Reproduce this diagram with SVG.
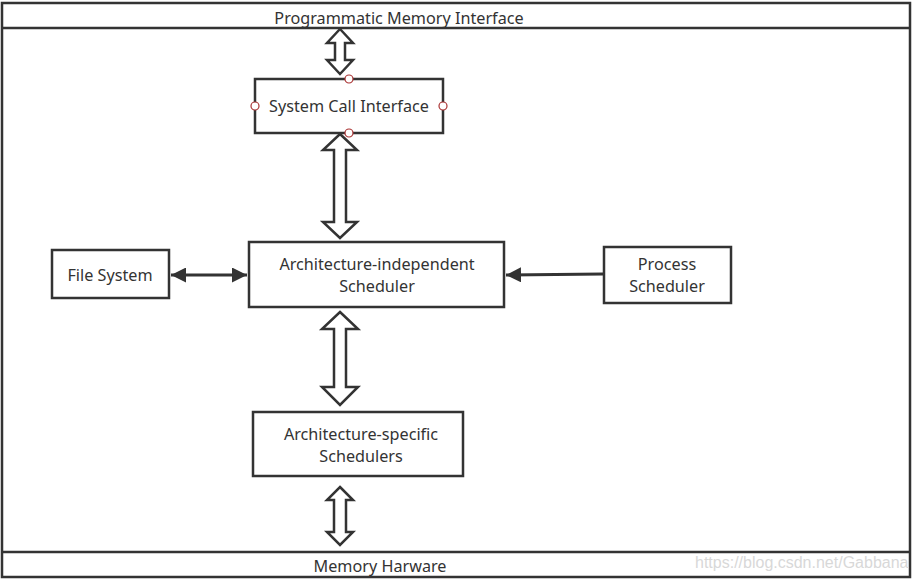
<svg xmlns="http://www.w3.org/2000/svg" width="915" height="579" viewBox="0 0 915 579">
<style>
.box{fill:#fff;stroke:#333;stroke-width:2.5}
.frame{fill:none;stroke:#333;stroke-width:2.5}
.t{font-family:"Noto Sans","Open Sans",sans-serif;font-size:16.2px;fill:#333;text-anchor:middle}
.hollow{fill:#fff;stroke:#333;stroke-width:2.5;stroke-linejoin:miter}
.line{stroke:#333;stroke-width:3;fill:none}
.port{fill:#fff;stroke:#a33;stroke-width:1.2}
.wm{font-family:"Liberation Sans",Arial,sans-serif;font-size:16px;fill:#d8d8d8}
</style>
<defs>
<marker id="ah" viewBox="0 0 10 10" refX="10" refY="5" markerWidth="5" markerHeight="5" orient="auto-start-reverse" markerUnits="strokeWidth">
<path d="M0,0 L10,5 L0,10 z" fill="#333"/>
</marker>
</defs>
<rect width="915" height="579" fill="#fff"/>
<g id="frame">
<rect class="frame" x="2" y="3" width="908" height="574"/>
<line class="frame" x1="2" y1="28" x2="910" y2="28"/>
<line class="frame" x1="2" y1="552" x2="910" y2="552"/>
<text class="t" x="399" y="24">Programmatic Memory Interface</text>
<text class="t" x="380" y="572">Memory Harware</text>
</g>
<g id="connectors">
<path class="hollow" d="M340,29 L353,43 L345,43 L345,60 L353,60 L340,74 L327,60 L335,60 L335,43 L327,43 Z"/>
<path class="hollow" d="M340,134 L357,150 L346,150 L346,222 L357,222 L340,238 L323,222 L334,222 L334,150 L323,150 Z"/>
<path class="hollow" d="M340,312 L358,329 L346,329 L346,387 L358,387 L340,405 L322,387 L334,387 L334,329 L322,329 Z"/>
<path class="hollow" d="M340,487 L353,500 L346,500 L346,532 L353,532 L340,545 L327,532 L334,532 L334,500 L327,500 Z"/>
<line class="line" x1="171" y1="275" x2="247" y2="275" marker-start="url(#ah)" marker-end="url(#ah)"/>
<line class="line" x1="603" y1="274" x2="506" y2="275" marker-end="url(#ah)"/>
</g>
<g id="sci">
<rect class="box" x="255" y="79" width="188" height="54"/>
<text class="t" x="349" y="112">System Call Interface</text>
<circle class="port" cx="349" cy="79" r="4"/>
<circle class="port" cx="349" cy="133" r="4"/>
<circle class="port" cx="255" cy="106" r="4"/>
<circle class="port" cx="443" cy="106" r="4"/>
</g>
<g id="ais">
<rect class="box" x="249" y="242" width="255" height="65"/>
<text class="t" x="377" y="270">Architecture-independent</text>
<text class="t" x="377" y="292.2">Scheduler</text>
</g>
<g id="fs">
<rect class="box" x="52" y="250" width="117" height="48"/>
<text class="t" x="110" y="281">File System</text>
</g>
<g id="ps">
<rect class="box" x="604" y="247" width="127" height="56"/>
<text class="t" x="667" y="270">Process</text>
<text class="t" x="667" y="292.2">Scheduler</text>
</g>
<g id="ass">
<rect class="box" x="253" y="412" width="210" height="64"/>
<text class="t" x="361" y="440">Architecture-specific</text>
<text class="t" x="361" y="462.2">Schedulers</text>
</g>
<text class="wm" x="695" y="568">https://blog.csdn.net/Gabbana</text>
</svg>
